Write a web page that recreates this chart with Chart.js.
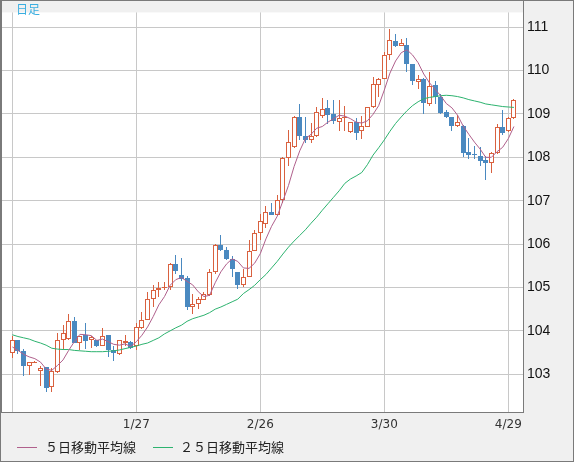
<!DOCTYPE html>
<html lang="ja">
<head>
<meta charset="utf-8">
<title>日足</title>
<script src="https://cdn.jsdelivr.net/npm/chart.js@4.4.1/dist/chart.umd.min.js"></script>
<style>
  html, body { margin: 0; padding: 0; background: #fff; }
  #wrap { position: relative; width: 574px; height: 462px; overflow: hidden; }
  #chart { position: absolute; left: 0; top: 0; }
  .note { position: absolute; font-family: 'Noto Sans CJK JP', sans-serif; white-space: nowrap; }
  #period { left: 16px; top: 2px; font-size: 12px; line-height: 14px; color: #3aaee0; }
  .legend { top: 439px; font-size: 13px; line-height: 16px; color: #222; }
  .swatch { position: absolute; top: 447px; width: 20px; height: 1px; }
</style>
</head>
<body>
<div id="wrap">
  <canvas id="chart" width="574" height="462"></canvas>
  <div id="period" class="note">日足</div>
  <div class="swatch" style="left:17px;background:#b0608c"></div>
  <div class="note legend" style="left:45px">５日移動平均線</div>
  <div class="swatch" style="left:153px;background:#2db36f"></div>
  <div class="note legend" style="left:180px">２５日移動平均線</div>
</div>
<script>
// 日付（営業日）
const dates = [
  '12/28','12/29','12/30','12/31',
  '1/1','1/4','1/5','1/6','1/7','1/8','1/11','1/12','1/13','1/14','1/15',
  '1/18','1/19','1/20','1/21','1/22','1/25','1/26','1/27','1/28','1/29',
  '2/1','2/2','2/3','2/4','2/5','2/8','2/9','2/10','2/11','2/12',
  '2/15','2/16','2/17','2/18','2/19','2/22','2/23','2/24','2/25','2/26',
  '3/1','3/2','3/3','3/4','3/5','3/8','3/9','3/10','3/11','3/12',
  '3/15','3/16','3/17','3/18','3/19','3/22','3/23','3/24','3/25','3/26',
  '3/29','3/30','3/31',
  '4/1','4/2','4/5','4/6','4/7','4/8','4/9','4/12','4/13','4/14','4/15','4/16',
  '4/19','4/20','4/21','4/22','4/23','4/26','4/27','4/28','4/29','4/30',
];

const openP = [
  103.48,103.78,103.53,103.20,103.27,103.08,103.16,102.71,103.05,103.80,
  103.81,104.22,103.72,103.90,103.78,103.80,103.66,103.90,103.55,103.46,
  103.73,103.75,103.65,104.07,104.25,104.73,104.94,104.99,105.01,105.55,
  105.29,105.22,104.56,104.61,104.71,104.82,105.35,105.99,105.87,105.65,
  105.35,105.05,105.25,105.85,106.25,106.47,106.75,106.67,107.01,107.98,
  108.24,108.92,108.50,108.40,108.49,108.96,109.13,108.99,108.82,108.90,
  108.58,108.82,108.60,108.71,109.16,109.66,109.81,110.35,110.69,110.57,
  110.60,110.15,109.74,109.81,109.23,109.66,109.38,109.04,108.92,108.73,
  108.72,108.13,108.07,108.04,107.94,107.88,108.09,108.69,108.60,108.90,
];
const highP = [
  103.89,103.80,103.59,103.29,103.30,103.18,103.17,103.14,103.96,104.13,
  104.40,104.32,103.89,104.19,103.88,103.80,104.07,103.90,103.66,103.80,
  103.90,103.76,104.19,104.43,104.90,105.05,105.12,105.12,105.56,105.76,
  105.69,105.27,104.85,104.77,104.90,105.42,106.00,106.21,105.93,105.72,
  105.35,105.42,106.10,106.32,106.69,106.88,106.94,107.14,108.00,108.62,
  108.95,109.23,108.92,108.80,109.16,109.37,109.31,109.33,109.31,109.19,
  108.82,108.90,108.95,109.16,109.85,109.83,110.43,110.95,110.84,110.72,
  110.75,110.16,109.90,109.83,109.96,109.75,109.46,109.10,108.94,108.97,
  108.75,108.45,108.26,108.24,108.04,108.13,108.76,109.08,108.93,109.34,
];
const lowP = [
  103.38,103.46,102.96,102.99,103.26,102.73,102.58,102.58,103.04,103.59,
  103.80,103.72,103.55,103.59,103.61,103.63,103.65,103.40,103.31,103.45,
  103.65,103.59,103.55,104.05,104.24,104.56,104.79,104.95,104.95,105.31,
  105.16,104.47,104.40,104.50,104.70,104.80,105.31,105.85,105.63,105.24,
  104.97,105.01,105.24,105.84,106.10,106.36,106.66,106.66,106.94,107.81,
  108.22,108.41,108.34,108.34,108.46,108.91,108.76,108.76,108.61,108.60,
  108.57,108.39,108.43,108.70,109.13,109.38,109.80,110.25,110.55,110.56,
  109.96,109.66,109.58,108.99,109.19,109.23,108.99,108.90,108.60,108.71,
  108.00,107.96,107.96,107.79,107.48,107.63,108.07,108.52,108.58,108.88,
];
const closeP = [
  103.78,103.53,103.18,103.28,103.28,103.15,102.69,103.07,103.80,103.95,
  104.22,103.72,103.89,103.77,103.87,103.65,103.89,103.55,103.48,103.80,
  103.76,103.60,104.10,104.25,104.73,104.95,104.99,105.01,105.55,105.39,
  105.20,104.56,104.61,104.73,104.86,105.35,105.99,105.87,105.65,105.42,
  105.05,105.25,105.84,106.25,106.53,106.75,106.67,107.01,107.98,108.35,
  108.92,108.49,108.41,108.49,109.04,109.12,108.97,108.84,108.90,108.92,
  108.82,108.56,108.73,109.16,109.68,109.81,110.35,110.70,110.57,110.63,
  110.15,109.75,109.81,109.25,109.64,109.38,109.03,108.92,108.73,108.81,
  108.11,108.06,108.06,107.91,107.88,108.09,108.69,108.56,108.91,109.32,
];

// 移動平均線
const ma5 = [
  103.63,103.55,103.46,103.40,103.36,103.28,103.12,103.09,103.20,103.33,
  103.55,103.75,103.92,103.91,103.89,103.78,103.81,103.75,103.69,103.67,
  103.70,103.64,103.75,103.90,104.09,104.33,104.60,104.79,105.05,105.18,
  105.23,105.14,105.06,104.90,104.79,104.82,105.11,105.36,105.54,105.66,
  105.60,105.45,105.44,105.56,105.78,106.12,106.41,106.64,106.99,107.35,
  107.79,108.15,108.43,108.53,108.67,108.71,108.81,108.89,108.97,108.95,
  108.89,108.81,108.79,108.84,108.99,109.19,109.55,109.94,110.22,110.41,
  110.48,110.36,110.18,109.92,109.72,109.57,109.42,109.24,109.14,108.97,
  108.72,108.53,108.35,108.19,108.00,108.00,108.13,108.23,108.43,108.71,
];
const ma25 = [
  103.91,103.87,103.84,103.81,103.76,103.72,103.67,103.60,103.58,103.57,
  103.57,103.55,103.54,103.53,103.52,103.52,103.52,103.53,103.54,103.56,
  103.59,103.62,103.65,103.69,103.72,103.78,103.84,103.93,104.00,104.07,
  104.13,104.22,104.28,104.32,104.36,104.42,104.50,104.55,104.61,104.67,
  104.73,104.86,104.95,105.05,105.18,105.30,105.45,105.60,105.77,105.93,
  106.07,106.20,106.33,106.48,106.62,106.78,106.93,107.08,107.23,107.40,
  107.50,107.57,107.65,107.83,108.05,108.22,108.40,108.60,108.78,108.93,
  109.07,109.19,109.28,109.35,109.38,109.40,109.42,109.43,109.42,109.40,
  109.37,109.33,109.30,109.27,109.23,109.21,109.19,109.17,109.16,109.15,
];

const tickIndex = [0, 22, 44, 66, 88];
const yTicks    = [103, 104, 105, 106, 107, 108, 109, 110, 111];

const UP    = '#d9613f';
const DOWN  = '#4a89c0';
const GRID  = '#c8c8c8';
const FRAME = '#7a7a7a';

const isUp = i => closeP[i] >= openP[i];

const wicks  = dates.map((_, i) => ({ x: i, y: [lowP[i], highP[i]] }));
const bodies = dates.map((_, i) => ({ x: i, y: [openP[i], closeP[i]] }));

/** 背景と枠線 */
const framePlugin = {
  id: 'frame',
  beforeDraw(chart) {
    const { ctx, chartArea: a, width, height } = chart;
    ctx.save();
    ctx.fillStyle = '#f0f0f0';
    ctx.fillRect(0, 0, width, height);
    ctx.fillStyle = '#ffffff';
    ctx.fillRect(a.left, a.top, a.right - a.left, a.bottom - a.top);
    ctx.restore();
  },
  afterDraw(chart) {
    const { ctx, chartArea: a, width, height } = chart;
    ctx.save();
    ctx.strokeStyle = FRAME;
    ctx.fillStyle   = FRAME;
    ctx.lineWidth   = 1;
    ctx.strokeRect(0.5, 0.5, width - 1, height - 1);
    ctx.fillRect(0, 0, 2, a.bottom + 1);
    ctx.beginPath();
    ctx.moveTo(a.right + 0.5, 0);
    ctx.lineTo(a.right + 0.5, a.bottom + 1);
    ctx.moveTo(0, a.bottom + 0.5);
    ctx.lineTo(a.right + 1, a.bottom + 0.5);
    ctx.stroke();
    ctx.restore();
  },
};

/** ローソク足をピクセル境界に揃える（にじみ防止） */
const snapPlugin = {
  id: 'snap',
  afterDatasetsUpdate(chart) {
    chart.data.datasets.forEach((ds, di) => {
      const meta = chart.getDatasetMeta(di);
      if (meta.type !== 'bar') return;
      meta.data.forEach(el => {
        el.x = Math.floor(el.x) + 0.5;
        el.y = Math.round(el.y);
        el.base = Math.round(el.base);
      });
    });
  },
};

new Chart(document.getElementById('chart'), {
  type: 'bar',
  data: {
    datasets: [
      {
        type: 'line', label: '５日移動平均線',
        data: ma5.map((v, i) => ({ x: i, y: v })),
        borderColor: '#b0608c', borderWidth: 1, pointRadius: 0, tension: 0, fill: false, order: 0,
      },
      {
        type: 'line', label: '２５日移動平均線',
        data: ma25.map((v, i) => ({ x: i, y: v })),
        borderColor: '#2db36f', borderWidth: 1, pointRadius: 0, tension: 0, fill: false, order: 0,
      },
      {
        label: 'body', data: bodies, order: 1, grouped: false,
        barThickness: 5, minBarLength: 1, inflateAmount: 0,
        borderWidth: 1, borderSkipped: false,
        backgroundColor: ctx => isUp(ctx.dataIndex) ? '#ffffff' : DOWN,
        borderColor:     ctx => isUp(ctx.dataIndex) ? UP : DOWN,
      },
      {
        label: 'wick', data: wicks, order: 2, grouped: false,
        barThickness: 1, inflateAmount: 0, borderWidth: 0,
        backgroundColor: ctx => isUp(ctx.dataIndex) ? UP : DOWN,
      },
    ],
  },
  options: {
    responsive: false, animation: false, devicePixelRatio: 1,
    layout: { padding: { left: 2, top: 1, right: 0, bottom: 0 } },
    plugins: { legend: { display: false }, tooltip: { enabled: false } },
    scales: {
      x: {
        type: 'linear', min: -1.83, max: 90.61, offset: false,
        grid: { color: GRID, lineWidth: 1, drawTicks: false, offset: false },
        border: { display: false },
        afterBuildTicks: s => { s.ticks = tickIndex.map(v => ({ value: v })); },
        afterFit: s => { s.height = 50; },
        ticks: {
          autoSkip: false, maxRotation: 0, padding: 6, color: '#333',
          font: { family: "'DejaVu Sans', sans-serif", size: 12 },
          callback: v => (v === 0 ? '' : dates[v]),
        },
      },
      y: {
        type: 'linear', position: 'right', min: 102.13, max: 111.34,
        grid: { color: GRID, lineWidth: 1, drawTicks: false },
        border: { display: false },
        afterBuildTicks: s => { s.ticks = yTicks.map(v => ({ value: v })); },
        afterFit: s => { s.width = 51; },
        ticks: {
          padding: 4, color: '#111',
          font: { family: "'Liberation Sans', sans-serif", size: 14 },
          callback: v => String(v),
        },
      },
    },
  },
  plugins: [framePlugin, snapPlugin],
});
</script>
</body>
</html>
